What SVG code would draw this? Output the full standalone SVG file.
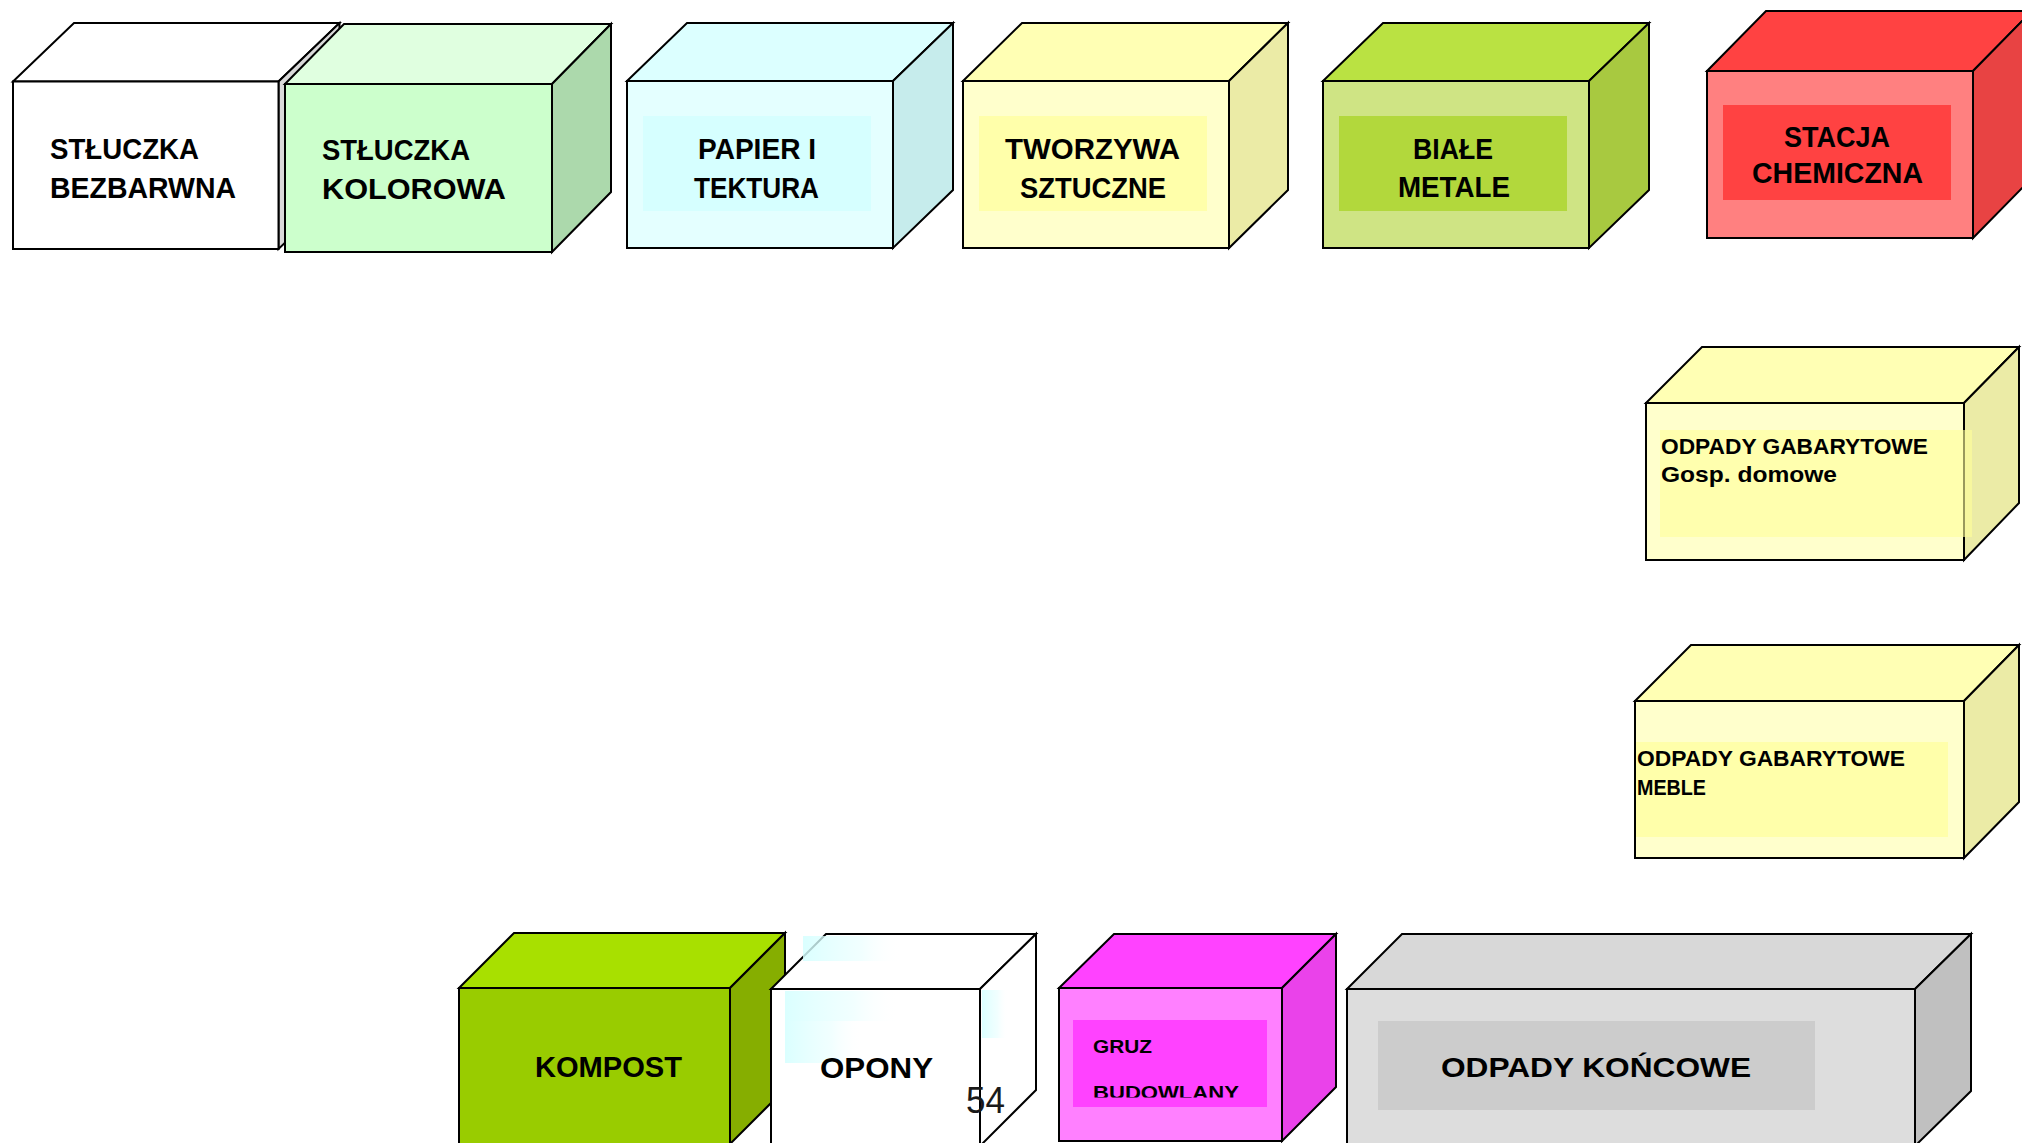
<svg xmlns="http://www.w3.org/2000/svg" width="2022" height="1143" viewBox="0 0 2022 1143">
<defs>
<style>
.e{stroke:#000;stroke-width:2;stroke-linejoin:miter}
.t{font-family:"Liberation Sans",Arial,sans-serif;font-weight:bold;fill:#000}
.big{font-size:29px}
.mid{font-size:22px}
.sm{font-size:19px}
</style>
<linearGradient id="cy" x1="0" y1="0" x2="1" y2="0">
<stop offset="0" stop-color="#d4ffff" stop-opacity="0.85"/>
<stop offset="0.6" stop-color="#e8ffff" stop-opacity="0.6"/>
<stop offset="1" stop-color="#ffffff" stop-opacity="0"/>
</linearGradient>
<clipPath id="gruzclip"><rect x="1060" y="1020" width="220" height="77.5"/></clipPath>
</defs>
<rect width="2022" height="1143" fill="#fff"/>

<g id="stluczka-bezbarwna">
<polygon class="e" fill="#ffffff" points="13,81.5 74,23 339.5,23 278.5,81.5"/>
<polygon class="e" fill="#d9d9d9" points="278.5,81.5 339.5,23 339.5,190.5 278.5,249"/>
<rect class="e" fill="#ffffff" x="13" y="81.5" width="265.5" height="167.5"/>
<text class="t big" x="50" y="159" textLength="149" lengthAdjust="spacingAndGlyphs">STŁUCZKA</text>
<text class="t big" x="50" y="198" textLength="186" lengthAdjust="spacingAndGlyphs">BEZBARWNA</text>
</g>

<g id="stluczka-kolorowa">
<polygon class="e" fill="#e0ffe0" points="285,84 344,24 611,24 552,84"/>
<polygon class="e" fill="#acd9ac" points="552,84 611,24 611,192 552,252"/>
<rect class="e" fill="#ccffcc" x="285" y="84" width="267" height="168"/>
<text class="t big" x="322" y="160" textLength="148" lengthAdjust="spacingAndGlyphs">STŁUCZKA</text>
<text class="t big" x="322" y="199" textLength="184" lengthAdjust="spacingAndGlyphs">KOLOROWA</text>
</g>

<g id="papier">
<polygon class="e" fill="#dcffff" points="627,81 687,23 953,23 893,81"/>
<polygon class="e" fill="#c6ecec" points="893,81 953,23 953,190 893,248"/>
<rect class="e" fill="#e4ffff" x="627" y="81" width="266" height="167"/>
<rect fill="#d6ffff" x="643" y="116" width="228" height="95"/>
<text class="t big" x="698" y="159" textLength="118" lengthAdjust="spacingAndGlyphs">PAPIER I</text>
<text class="t big" x="694" y="198" textLength="125" lengthAdjust="spacingAndGlyphs">TEKTURA</text>
</g>

<g id="tworzywa">
<polygon class="e" fill="#ffffb4" points="963,81 1022,23 1288,23 1229,81"/>
<polygon class="e" fill="#ebeba6" points="1229,81 1288,23 1288,190 1229,248"/>
<rect class="e" fill="#ffffcc" x="963" y="81" width="266" height="167"/>
<rect fill="#ffffaa" x="979" y="116" width="228" height="95"/>
<text class="t big" x="1005" y="159" textLength="175" lengthAdjust="spacingAndGlyphs">TWORZYWA</text>
<text class="t big" x="1020" y="198" textLength="146" lengthAdjust="spacingAndGlyphs">SZTUCZNE</text>
</g>

<g id="biale-metale">
<polygon class="e" fill="#bae242" points="1323,81 1383,23 1649,23 1589,81"/>
<polygon class="e" fill="#a8c940" points="1589,81 1649,23 1649,190 1589,248"/>
<rect class="e" fill="#cfe484" x="1323" y="81" width="266" height="167"/>
<rect fill="#b2d83c" x="1339" y="116" width="228" height="95"/>
<text class="t big" x="1413" y="159" textLength="80" lengthAdjust="spacingAndGlyphs">BIAŁE</text>
<text class="t big" x="1398" y="197" textLength="112" lengthAdjust="spacingAndGlyphs">METALE</text>
</g>

<g id="stacja-chemiczna">
<polygon class="e" fill="#ff4242" points="1707,71 1766,11 2032,11 1973,71"/>
<polygon class="e" fill="#e84343" points="1973,71 2032,11 2032,178 1973,238"/>
<rect class="e" fill="#ff8080" x="1707" y="71" width="266" height="167"/>
<rect fill="#ff4242" x="1723" y="105" width="228" height="95"/>
<text class="t big" x="1784" y="147" textLength="106" lengthAdjust="spacingAndGlyphs">STACJA</text>
<text class="t big" x="1752" y="183" textLength="171" lengthAdjust="spacingAndGlyphs">CHEMICZNA</text>
</g>

<g id="gabarytowe-domowe">
<polygon class="e" fill="#ffffb4" points="1646,403 1702,347 2019,347 1964,403"/>
<polygon class="e" fill="#ebeba6" points="1964,403 2019,347 2019,503 1964,560"/>
<rect class="e" fill="#ffffcc" x="1646" y="403" width="318" height="157"/>
<rect fill="#ffff99" fill-opacity="0.6" x="1660" y="430" width="312" height="107"/>
<text class="t mid" x="1661" y="454" textLength="267" lengthAdjust="spacingAndGlyphs">ODPADY GABARYTOWE</text>
<text class="t mid" x="1661" y="482" textLength="176" lengthAdjust="spacingAndGlyphs">Gosp. domowe</text>
</g>

<g id="gabarytowe-meble">
<polygon class="e" fill="#ffffb4" points="1635,701 1691,645 2019,645 1964,701"/>
<polygon class="e" fill="#ebeba6" points="1964,701 2019,645 2019,802 1964,858"/>
<rect class="e" fill="#ffffcc" x="1635" y="701" width="329" height="157"/>
<rect fill="#ffffaa" x="1636" y="742" width="312" height="95"/>
<text class="t mid" x="1637" y="766" textLength="268" lengthAdjust="spacingAndGlyphs">ODPADY GABARYTOWE</text>
<text class="t mid" x="1637" y="795" textLength="69" lengthAdjust="spacingAndGlyphs">MEBLE</text>
</g>

<g id="kompost">
<polygon class="e" fill="#a8e000" points="459,988 514,933 785,933 730,988"/>
<polygon class="e" fill="#86ae00" points="730,988 785,933 785,1089 730,1144"/>
<rect class="e" fill="#99cc00" x="459" y="988" width="271" height="156"/>
<text class="t big" x="535" y="1077" textLength="147" lengthAdjust="spacingAndGlyphs">KOMPOST</text>
</g>

<g id="opony">
<polygon class="e" fill="#ffffff" points="771,989 826,934 1036,934 980,989"/>
<polygon class="e" fill="#ffffff" points="980,989 1036,934 1036,1090 980,1146"/>
<rect class="e" fill="#ffffff" x="771" y="989" width="209" height="157"/>
<rect fill="url(#cy)" x="803" y="936" width="98" height="25"/>
<rect fill="url(#cy)" x="785" y="991" width="114" height="30"/>
<rect fill="url(#cy)" x="785" y="1021" width="78" height="42"/>
<rect fill="url(#cy)" x="982" y="990" width="26" height="48"/>
<text class="t" style="font-size:30px" x="820" y="1078" textLength="113" lengthAdjust="spacingAndGlyphs">OPONY</text>
<text x="966" y="1113" style="font-family:'Liberation Sans',Arial,sans-serif;font-size:37px;fill:#1a1a1a" textLength="39" lengthAdjust="spacingAndGlyphs">54</text>
</g>

<g id="gruz-budowlany">
<polygon class="e" fill="#ff42ff" points="1059,988 1114,934 1336,934 1282,988"/>
<polygon class="e" fill="#ea42ea" points="1282,988 1336,934 1336,1087 1282,1141"/>
<rect class="e" fill="#ff80ff" x="1059" y="988" width="223" height="153"/>
<rect fill="#ff42ff" x="1073" y="1020" width="194" height="87"/>
<text class="t sm" x="1093" y="1053" textLength="59" lengthAdjust="spacingAndGlyphs">GRUZ</text>
<text class="t sm" x="1093" y="1098.5" textLength="146" lengthAdjust="spacingAndGlyphs" clip-path="url(#gruzclip)">BUDOWLANY</text>
</g>

<g id="odpady-koncowe">
<polygon class="e" fill="#d8d8d8" points="1347,989 1402,934 1971,934 1915,989"/>
<polygon class="e" fill="#c0c0c0" points="1915,989 1971,934 1971,1091 1915,1146"/>
<rect class="e" fill="#dddddd" x="1347" y="989" width="568" height="157"/>
<rect fill="#cccccc" x="1378" y="1021" width="437" height="89"/>
<text class="t" style="font-size:28px" x="1441" y="1077" textLength="310" lengthAdjust="spacingAndGlyphs">ODPADY KOŃCOWE</text>
</g>
</svg>
